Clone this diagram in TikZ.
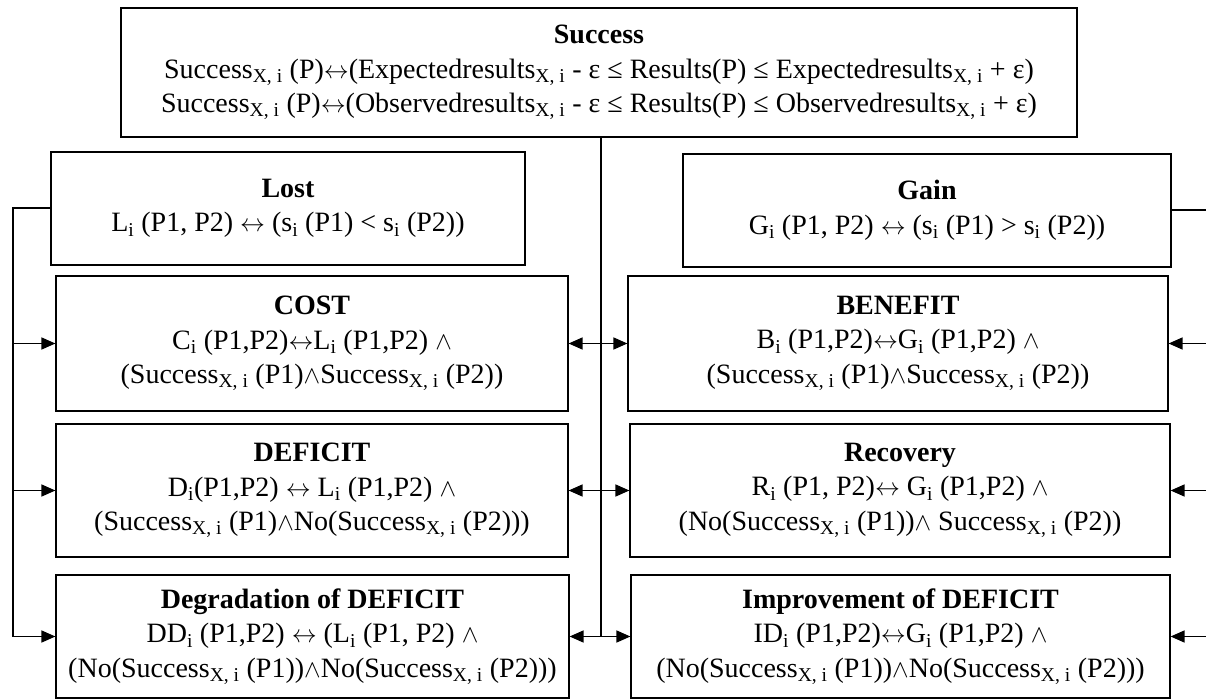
\documentclass[tikz,border=0pt]{standalone}
\usepackage{fontspec}
\setmainfont{Liberation Serif}
\usetikzlibrary{arrows.meta}
\newcommand{\sbs}[1]{\textsubscript{#1}}
\newcommand{\lwedge}{$\wedge$}
\newcommand{\liff}{$\leftrightarrow$}

\begin{document}
\begin{tikzpicture}[x=1pt, y=-1pt, >={Triangle[length=14pt,width=12pt]},
    every node/.style={font=\fontsize{28}{34.5}\selectfont},
    defbox/.style={draw, rectangle, align=center, inner sep=0pt, line width=1.2pt},
    busline/.style={line width=2pt}]
        \useasboundingbox (0,0) rectangle (1206,700);
        \clip (0,0) rectangle (1206,700);
        % Definition boxes
        \node [defbox, minimum width=956pt, minimum height=129pt] (success) at (599,72.5) {\textbf{Success}\\Success\sbs{X, i} (P)\liff(Expectedresults\sbs{X, i} - ε ≤ Results(P) ≤ Expectedresults\sbs{X, i} + ε)\\Success\sbs{X, i} (P)\liff(Observedresults\sbs{X, i} - ε ≤ Results(P) ≤ Observedresults\sbs{X, i} + ε)};
        \node [defbox, minimum width=474pt, minimum height=113pt] (lost) at (288,208.5) {\textbf{Lost}\\L\sbs{i} (P1, P2) \liff{} (s\sbs{i} (P1) < s\sbs{i} (P2))};
        \node [defbox, minimum width=488pt, minimum height=113pt] (gain) at (927,210.5) {\textbf{Gain}\\G\sbs{i} (P1, P2) \liff{} (s\sbs{i} (P1) > s\sbs{i} (P2))};
        \node [defbox, minimum width=512pt, minimum height=135pt] (cost) at (312,343.5) {\textbf{COST}\\C\sbs{i} (P1,P2)\liff L\sbs{i} (P1,P2) \lwedge\\(Success\sbs{X, i} (P1)\lwedge Success\sbs{X, i} (P2))};
        \node [defbox, minimum width=540pt, minimum height=135pt] (benefit) at (898,343.5) {\textbf{BENEFIT}\\B\sbs{i} (P1,P2)\liff G\sbs{i} (P1,P2) \lwedge\\(Success\sbs{X, i} (P1)\lwedge Success\sbs{X, i} (P2))};
        \node [defbox, minimum width=512pt, minimum height=133pt] (deficit) at (312,490.5) {\textbf{DEFICIT}\\D\sbs{i}(P1,P2) \liff{} L\sbs{i} (P1,P2) \lwedge\\(Success\sbs{X, i} (P1)\lwedge No(Success\sbs{X, i} (P2)))};
        \node [defbox, minimum width=540pt, minimum height=133pt] (recovery) at (900,490.5) {\textbf{Recovery}\\R\sbs{i} (P1, P2)\liff{} G\sbs{i} (P1,P2) \lwedge\\(No(Success\sbs{X, i} (P1))\lwedge{} Success\sbs{X, i} (P2))};
        \node [defbox, minimum width=513pt, minimum height=123pt] (degrad) at (312.5,636.5) {\textbf{Degradation of DEFICIT}\\DD\sbs{i} (P1,P2) \liff{} (L\sbs{i} (P1, P2) \lwedge\\(No(Success\sbs{X, i} (P1))\lwedge No(Success\sbs{X, i} (P2)))};
        \node [defbox, minimum width=539pt, minimum height=123pt] (improve) at (900.5,636.5) {\textbf{Improvement of DEFICIT}\\ID\sbs{i} (P1,P2)\liff G\sbs{i} (P1,P2) \lwedge\\(No(Success\sbs{X, i} (P1))\lwedge No(Success\sbs{X, i} (P2)))};

        % Bus lines
        \coordinate (hub) at (601,636.5);
        \coordinate (lbus) at (13,636.5);
        \coordinate (rbus) at (1220,636.5);
        \draw [busline] (success.south -| hub) -- (hub);
        \draw [busline] (lost.west) -| (lbus);
        \draw [busline] (gain.east) -| (rbus);

        % Arrows
        \draw [->, line width=1.6pt] (lbus |- cost.west) -- (cost.west);
        \draw [->, line width=1.6pt] (lbus |- deficit.west) -- (deficit.west);
        \draw [->, line width=1.6pt] (lbus) -- (degrad.west);
        \draw [->, line width=1.6pt] (rbus |- benefit.east) -- (benefit.east);
        \draw [->, line width=1.6pt] (rbus |- recovery.east) -- (recovery.east);
        \draw [->, line width=1.6pt] (rbus) -- (improve.east);
        \draw [<->, line width=1.6pt] (cost.east) -- (benefit.west);
        \draw [<->, line width=1.6pt] (deficit.east) -- (recovery.west);
        \draw [<->, line width=1.6pt] (degrad.east) -- (improve.west);
    \end{tikzpicture}
\end{document}
